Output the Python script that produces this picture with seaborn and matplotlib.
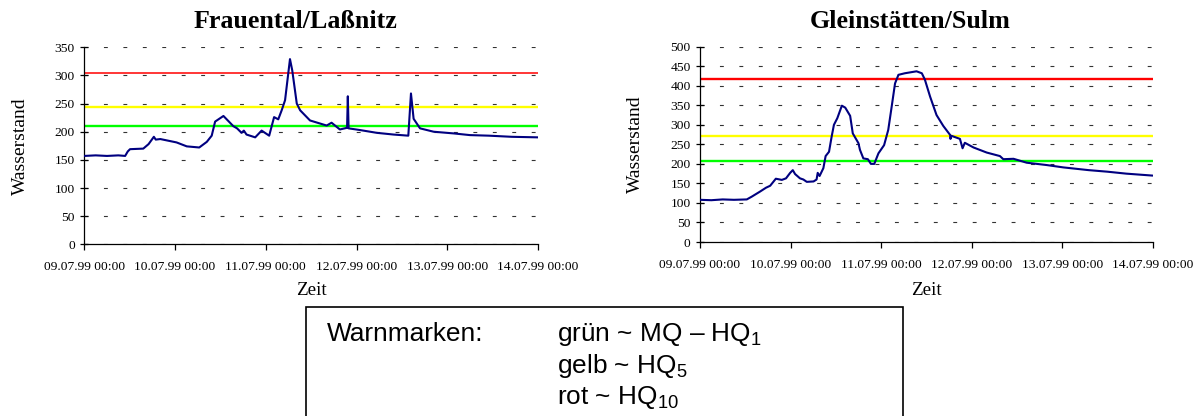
import numpy as np
import pandas as pd
import matplotlib
matplotlib.use("Agg")
import matplotlib.pyplot as plt
import seaborn as sns
from matplotlib.patches import Rectangle

# ---------------- data ----------------
tick_hours = [0, 24, 48, 72, 96, 120]
tick_labels = ["09.07.99 00:00", "10.07.99 00:00", "11.07.99 00:00",
               "12.07.99 00:00", "13.07.99 00:00", "14.07.99 00:00"]

# Frauental/Laßnitz
fr_hours = [0, 3, 6, 9, 10.8, 11.5, 12.1, 15.6, 17, 18.4, 18.9, 20.1, 24.4, 27.1,
            30.4, 32.4, 33.7, 34.6, 36.8, 39.4, 40.4, 41.6, 42.2, 42.9, 45.2,
            46.9, 48.9, 50.2, 51.3, 52.2, 53.1, 54.4, 55.0, 56.2, 57.1, 59.7,
            64.1, 65.4, 67.6, 69.5, 69.7, 69.9, 72.9, 77.4, 81.8, 85.7, 86.4,
            87.1, 88.8, 92.4, 97.7, 102, 107, 113, 120]
fr_level = [157, 158, 157, 158, 157, 165, 169, 170, 178, 191, 186, 187, 181, 174,
            172, 182, 193, 218, 228, 210, 206, 198, 202, 195, 190,
            202, 193, 226, 222, 238, 256, 329, 309, 250, 238, 220,
            211, 216, 204, 207, 263, 206, 203, 198, 195, 193, 268,
            223, 206, 200, 197, 194, 193, 191, 190]
fr_green, fr_yellow, fr_red = 210, 244, 304

# Gleinstätten/Sulm
gl_hours = [0, 3, 6, 9, 12.4, 13.7, 15.9, 17.5, 18.6, 20.1, 21.7, 22.8, 23.9,
            24.6, 25.2, 26.5, 27.4, 28.3, 30.1, 30.9, 31.2, 31.7, 32.7, 33.3,
            34.2, 34.9, 35.5, 36.4, 37.6, 38.5, 39.8, 40.5, 42.0, 42.4, 43.3,
            44.5, 45.3, 46.2, 47.3, 48.8, 49.9, 50.8, 51.7, 52.6, 54.3, 57.4,
            58.8, 59.6, 61.0, 62.7, 64.5, 66.3, 66.4, 66.6, 68.9, 69.6, 70.2,
            72.5, 76, 79.5, 80.4, 83.1, 86.6, 88.4, 91.9, 96.3, 103, 108, 113, 120]
gl_level = [108, 107, 109, 108, 109, 116, 129, 139, 144, 162, 159, 163, 177,
            184, 174, 163, 160, 154, 155, 160, 177, 169, 189, 220,
            231, 270, 300, 317, 349, 344, 323, 278, 253, 236, 214,
            212, 200, 200, 227, 248, 287, 346, 406, 428, 432, 437,
            432, 416, 372, 325, 297, 274, 264, 272, 264, 240, 254,
            242, 229, 220, 212, 213, 203, 201, 197, 191, 184, 180, 175, 170]
gl_green, gl_yellow, gl_red = 208, 271, 417

# ---------------- style ----------------
sns.set_theme(style="white")
plt.rcParams["font.family"] = ["Liberation Serif", "DejaVu Serif"]
plt.rcParams["mathtext.fontset"] = "custom"
plt.rcParams["mathtext.rm"] = "Liberation Sans"

W, H = 1199, 416
fig = plt.figure(figsize=(W / 100, H / 100), dpi=100)


def px_axes(x0, x1, ytop, ybot):
    return fig.add_axes([x0 / W, 1 - ybot / H, (x1 - x0) / W, (ybot - ytop) / H])


ax1 = px_axes(84.3, 538.0, 47.3, 244.3)
ax2 = px_axes(700.0, 1152.7, 46.7, 242.0)

panels = [
    (ax1, fr_hours, fr_level, (fr_green, fr_yellow, fr_red), 350,
     (1.7, 1.7, 1.1), 295.5, "Frauental/Laßnitz", 295, 244.3, 196.7),
    (ax2, gl_hours, gl_level, (gl_green, gl_yellow, gl_red), 500,
     (1.7, 1.7, 1.7), 910.0, "Gleinstätten/Sulm", 295, 242.0, 195.3),
]

for ax, hrs, lvl, marks, ymax, lws, tx, title, zeit_y, ybot, hpx in panels:
    df = pd.DataFrame({"Zeit": hrs, "Wasserstand": lvl})
    ax.set_axisbelow(True)
    ax.yaxis.grid(True, linestyle=(0, (3.5, 14)), color="#333333", lw=0.8)
    ax.xaxis.grid(False)
    for val, col, lw in zip(marks, ["#00FF00", "#FFFF00", "#FF0000"], lws):
        ax.axhline(val, color=col, lw=lw, zorder=2)
    sns.lineplot(data=df, x="Zeit", y="Wasserstand", ax=ax, color="#000080",
                 lw=1.5, estimator=None, sort=False, zorder=3)
    ax.set_xlim(0, 120)
    ax.set_ylim(0, ymax)
    ax.set_xticks(tick_hours)
    ax.set_xticklabels(tick_labels)
    ax.set_yticks(np.arange(0, ymax + 1, 50))
    for s in ["top", "right"]:
        ax.spines[s].set_visible(False)
    for s in ["left", "bottom"]:
        ax.spines[s].set_color("black")
        ax.spines[s].set_linewidth(0.9)
    ax.tick_params(axis="both", which="major", width=0.9, color="black",
                   labelsize=9.7, labelcolor="black", bottom=True, left=True)
    ax.tick_params(axis="x", direction="out", length=4.3, pad=8)
    ax.tick_params(axis="y", direction="inout", length=6, pad=3.7)
    ax.set_xlabel("Zeit", fontsize=13.7, color="black", va="baseline")
    ax.xaxis.set_label_coords(0.5, (ybot - zeit_y) / hpx)
    ax.set_ylabel("Wasserstand", fontsize=14, color="black", va="center")
    ax.yaxis.set_label_coords(-0.1415, 0.5)
    fig.text(tx / W, 1 - 28 / H, title, ha="center", va="baseline",
             fontsize=18.7, fontweight="bold", color="black")

# ---------------- legend box ----------------
fig.add_artist(Rectangle((306 / W, -0.05), (903 - 306) / W, (1 - 307 / H) + 0.05,
                         transform=fig.transFigure, fill=False, ec="black", lw=1.2))
box_font = dict(family=["Liberation Sans", "DejaVu Sans"], fontsize=18.9,
                color="black", va="baseline", ha="left")
fig.text(327 / W, 1 - 341 / H, "Warnmarken:", **box_font)
fig.text(556.7 / W, 1 - 341 / H, "grün ~ MQ – HQ$_\\mathregular{1}$", **box_font)
fig.text(556.7 / W, 1 - 372.5 / H, "gelb ~ HQ$_\\mathregular{5}$", **box_font)
fig.text(556.7 / W, 1 - 404 / H, "rot ~ HQ$_\\mathregular{10}$", **box_font)

fig.savefig("out.png", dpi=100)
